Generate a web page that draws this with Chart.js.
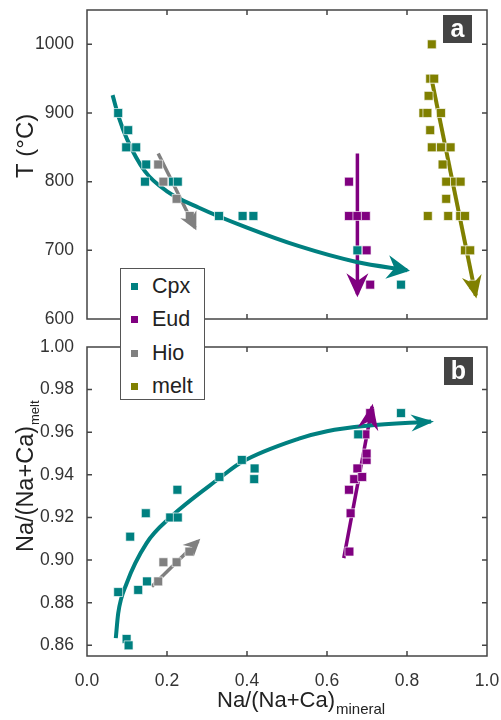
<!DOCTYPE html>
<html lang="en">
<head>
  <meta charset="UTF-8" />
  <title>Na/(Na+Ca) mineral vs melt</title>
  <script src="https://cdn.jsdelivr.net/npm/chart.js@4.4.0/dist/chart.umd.min.js"></script>
  <style>
    body { margin: 0; background: #fff; font-family: "Liberation Sans", Arial, sans-serif; }
    #wrap { position: relative; width: 501px; height: 720px; }
    #wrap canvas { position: absolute; left: 0; }
    #chartA { top: 0; }
    #chartB { top: 330px; }
    .tag {
      position: absolute; width: 29px; height: 28px; background: #444;
      color: #fff; font-weight: bold; font-size: 25px; line-height: 26px; text-align: center;
    }
    #legend {
      position: absolute; left: 120px; top: 268px; width: 83px; height: 130px;
      border: 1.5px solid #555; background: #fff; z-index: 5;
    }
    #legend div { position: absolute; left: 0; font-size: 21.5px; color: #222; height: 26px; line-height: 26px; }
    #legend span.mk { position: absolute; left: 10px; top: 10px; width: 7px; height: 7px; }
    #legend span.lb { position: absolute; left: 31px; top: 0; }
  </style>
</head>
<body>
<div id="wrap">
  <canvas id="chartA" width="501" height="330"></canvas>
  <canvas id="chartB" width="501" height="390"></canvas>
  <div class="tag" style="left:443px;top:15px">a</div>
  <div class="tag" style="left:444px;top:357px">b</div>
  <div id="legend"></div>
</div>

<script>
  // ---- data ----
  // panel a: T (°C) vs Na/(Na+Ca) mineral
  const cpxA  = [[0.078,900],[0.103,875],[0.098,850],[0.123,850],[0.148,825],[0.145,800],[0.215,800],
                 [0.227,800],[0.330,750],[0.389,750],[0.416,750],[0.676,700],[0.785,650]];
  const eudA  = [[0.655,800],[0.655,750],[0.676,750],[0.697,750],[0.699,700],[0.708,650]];
  const hioA  = [[0.178,825],[0.191,800],[0.224,775],[0.257,750]];
  const meltA = [[0.862,1000],[0.858,950],[0.868,950],[0.854,925],[0.841,900],[0.851,900],[0.885,900],
                 [0.858,875],[0.862,850],[0.885,850],[0.909,850],[0.889,825],[0.898,800],[0.920,800],
                 [0.934,800],[0.898,775],[0.852,750],[0.903,750],[0.933,750],[0.945,750],[0.945,700],
                 [0.958,700],[0.966,650]];

  // panel b: Na/(Na+Ca) melt vs Na/(Na+Ca) mineral
  const cpxB = [[0.078,0.885],[0.099,0.863],[0.104,0.860],[0.108,0.911],[0.128,0.886],[0.147,0.922],
                [0.150,0.890],[0.208,0.920],[0.227,0.920],[0.226,0.933],[0.331,0.939],[0.387,0.947],
                [0.419,0.943],[0.418,0.938],[0.678,0.959],[0.785,0.969]];
  const hioB = [[0.178,0.890],[0.191,0.899],[0.224,0.899],[0.256,0.904]];
  const eudB = [[0.656,0.904],[0.659,0.922],[0.655,0.933],[0.668,0.938],[0.676,0.943],[0.688,0.939],
                [0.699,0.947],[0.699,0.950],[0.696,0.959],[0.708,0.969]];

  // trend arrows (last point = arrow tip)
  const cpxTrendA  = [[0.064,926],[0.08,893],[0.1,862],[0.145,815],[0.2,786],[0.28,762],[0.4,733],
                      [0.53,706],[0.674,683],[0.80,671]];
  const hioTrendA  = [[0.178,841],[0.270,733]];
  const eudTrendA  = [[0.676,841],[0.676,636]];
  const meltTrendA = [[0.862,948],[0.972,634]];
  const cpxTrendB  = [[0.072,0.8634],[0.078,0.875],[0.099,0.889],[0.149,0.908],[0.208,0.920],
                      [0.331,0.9384],[0.387,0.946],[0.53,0.957],[0.6,0.9605],[0.7,0.963],[0.86,0.965]];
  const hioTrendB  = [[0.162,0.8876],[0.278,0.909]];
  const eudTrendB  = [[0.642,0.9009],[0.713,0.972]];

  // ticks
  const xTicks  = [0, 0.2, 0.4, 0.6, 0.8, 1.0];
  const tTicks  = [600, 700, 800, 900, 1000];
  const naTicks = [0.86, 0.88, 0.90, 0.92, 0.94, 0.96, 0.98, 1.00];

  const TEAL = '#008080', PURPLE = '#800080', GRAY = '#808080', OLIVE = '#808000';
  const FONT = '"Liberation Sans", Arial, sans-serif';

  const toXY = arr => arr.map(p => ({ x: p[0], y: p[1] }));

  function pts(label, arr, color) {
    return {
      label, data: toXY(arr), showLine: false, order: 0,
      pointStyle: 'rect', pointRadius: 6.3, pointHoverRadius: 6.3,
      backgroundColor: color, borderColor: 'rgba(255,255,255,0.65)', borderWidth: 1
    };
  }
  function trend(arr, color, w, headL, headW, curved) {
    return {
      data: toXY(arr), showLine: true, order: 1, pointRadius: 0, pointHoverRadius: 0,
      borderColor: color, borderWidth: w, borderCapStyle: 'butt', fill: false,
      cubicInterpolationMode: curved ? 'monotone' : 'default', tension: 0,
      arrow: { len: headL, width: headW }
    };
  }

  // arrow heads at the end of trend lines
  const arrowPlugin = {
    id: 'arrowHeads',
    afterDatasetsDraw(chart) {
      const ctx = chart.ctx;
      chart.data.datasets.forEach((ds, i) => {
        if (!ds.arrow) return;
        const pts = chart.getDatasetMeta(i).data;
        const e = pts[pts.length - 1];
        let px = e.cp1x, py = e.cp1y;
        if (px === undefined || (Math.abs(px - e.x) < 0.5 && Math.abs(py - e.y) < 0.5)) {
          px = pts[pts.length - 2].x; py = pts[pts.length - 2].y;
        }
        let dx = e.x - px, dy = e.y - py;
        const n = Math.hypot(dx, dy); dx /= n; dy /= n;
        const L = ds.arrow.len, W = ds.arrow.width / 2;
        const tx = e.x + dx * 3, ty = e.y + dy * 3;
        const bx = tx - dx * L, by = ty - dy * L;
        const nx = tx - dx * L * 0.68, ny = ty - dy * L * 0.68;
        ctx.save();
        ctx.fillStyle = ds.borderColor;
        ctx.beginPath();
        ctx.moveTo(tx, ty);
        ctx.lineTo(bx - dy * W, by + dx * W);
        ctx.lineTo(nx, ny);
        ctx.lineTo(bx + dy * W, by - dx * W);
        ctx.closePath();
        ctx.fill();
        ctx.restore();
      });
    }
  };

  // frame with inward tick marks on all four sides
  const framePlugin = {
    id: 'frame',
    afterDraw(chart, args, opts) {
      const ctx = chart.ctx, a = chart.chartArea;
      const xs = chart.scales.x, ys = chart.scales.y;
      ctx.save();
      ctx.strokeStyle = '#444';
      ctx.lineWidth = 1.5;
      ctx.strokeRect(a.left, a.top, a.right - a.left, a.bottom - a.top);
      ctx.beginPath();
      opts.xTicks.forEach(v => {
        const x = xs.getPixelForValue(v);
        if (x <= a.left + 1 || x >= a.right - 1) return;
        ctx.moveTo(x, a.top); ctx.lineTo(x, a.top + 5);
        ctx.moveTo(x, a.bottom); ctx.lineTo(x, a.bottom - 5);
      });
      opts.yTicks.forEach(v => {
        const y = ys.getPixelForValue(v);
        if (y <= a.top + 1 || y >= a.bottom - 1) return;
        ctx.moveTo(a.left, y); ctx.lineTo(a.left + 5, y);
        ctx.moveTo(a.right, y); ctx.lineTo(a.right - 5, y);
      });
      ctx.stroke();
      ctx.restore();
    }
  };

  // axis titles with subscripts
  function drawTitle(ctx, x, y, main, sub, size, subSize, rotate) {
    ctx.save();
    ctx.translate(x, y);
    if (rotate) ctx.rotate(-Math.PI / 2);
    ctx.fillStyle = '#222';
    ctx.textAlign = 'left';
    ctx.textBaseline = 'alphabetic';
    ctx.font = size + 'px ' + FONT;
    ctx.fillText(main, 0, 0);
    if (sub) {
      const w = ctx.measureText(main).width;
      ctx.font = subSize + 'px ' + FONT;
      ctx.fillText(sub, w + 1, subSize * 0.45);
    }
    ctx.restore();
  }
  const titlePlugin = {
    id: 'titles',
    afterDraw(chart, args, opts) {
      opts.items.forEach(t => drawTitle(chart.ctx, t.x, t.y, t.main, t.sub, t.size, t.subSize, t.rotate));
    }
  };

  const tickFont = { family: FONT, size: 17.5 };

  function baseOptions(yMin, yMax, yTicksArr, yFmt, showX, titles, pad) {
    return {
      responsive: false,
      animation: false,
      events: [],
      layout: { padding: pad },
      plugins: {
        legend: { display: false },
        tooltip: { enabled: false },
        frame: { xTicks, yTicks: yTicksArr },
        titles: { items: titles }
      },
      scales: {
        x: {
          type: 'linear', min: 0, max: 1, display: showX,
          grid: { display: false }, border: { display: false },
          afterBuildTicks: s => { s.ticks = xTicks.map(v => ({ value: v })); },
          afterFit: s => { s.height = showX ? 64 : 0; s.paddingLeft = 0; s.paddingRight = 0; },
          ticks: { color: '#333', font: tickFont, padding: 7, maxRotation: 0,
                   callback: v => v.toFixed(1) }
        },
        y: {
          type: 'linear', min: yMin, max: yMax,
          grid: { display: false }, border: { display: false },
          afterBuildTicks: s => { s.ticks = yTicksArr.map(v => ({ value: v })); },
          afterFit: s => { s.width = 87; s.paddingTop = 0; s.paddingBottom = 0; },
          ticks: { color: '#333', font: tickFont, padding: 5, callback: yFmt }
        }
      }
    };
  }

  new Chart(document.getElementById('chartA'), {
    type: 'scatter',
    data: {
      datasets: [
        pts('Cpx', cpxA, TEAL),
        pts('Eud', eudA, PURPLE),
        pts('Hio', hioA, GRAY),
        pts('melt', meltA, OLIVE),
        trend(cpxTrendA, TEAL, 4, 23, 24, true),
        trend(hioTrendA, GRAY, 3.5, 18, 18, false),
        trend(eudTrendA, PURPLE, 3.5, 24, 22, false),
        trend(meltTrendA, OLIVE, 4, 23, 20, false)
      ]
    },
    options: baseOptions(600, 1050, tTicks, v => String(v), false,
      [{ x: 33, y: 178, main: 'T (°C)', size: 24, rotate: true }],
      { left: 0, right: 14, top: 10, bottom: 11 }),
    plugins: [arrowPlugin, framePlugin, titlePlugin]
  });

  new Chart(document.getElementById('chartB'), {
    type: 'scatter',
    data: {
      datasets: [
        pts('Cpx', cpxB, TEAL),
        pts('Eud', eudB, PURPLE),
        pts('Hio', hioB, GRAY),
        trend(cpxTrendB, TEAL, 4, 23, 17, true),
        trend(hioTrendB, GRAY, 3.5, 17, 16, false),
        trend(eudTrendB, PURPLE, 3.5, 26, 21, false)
      ]
    },
    options: baseOptions(0.855, 1.0, naTicks, v => v.toFixed(2), true,
      [{ x: 33, y: 222, main: 'Na/(Na+Ca)', sub: 'melt', size: 23.5, subSize: 13, rotate: true },
       { x: 217, y: 377, main: 'Na/(Na+Ca)', sub: 'mineral', size: 22, subSize: 15, rotate: false }],
      { left: 0, right: 14, top: 17, bottom: 0 }),
    plugins: [arrowPlugin, framePlugin, titlePlugin]
  });

  // legend
  const legendItems = [['Cpx', TEAL], ['Eud', PURPLE], ['Hio', GRAY], ['melt', OLIVE]];
  const legendEl = document.getElementById('legend');
  legendItems.forEach((it, i) => {
    const row = document.createElement('div');
    row.style.top = (4 + i * 33.3) + 'px';
    row.style.width = '83px';
    row.innerHTML = '<span class="mk" style="background:' + it[1] + '"></span><span class="lb">' + it[0] + '</span>';
    legendEl.appendChild(row);
  });
</script>
</body>
</html>
